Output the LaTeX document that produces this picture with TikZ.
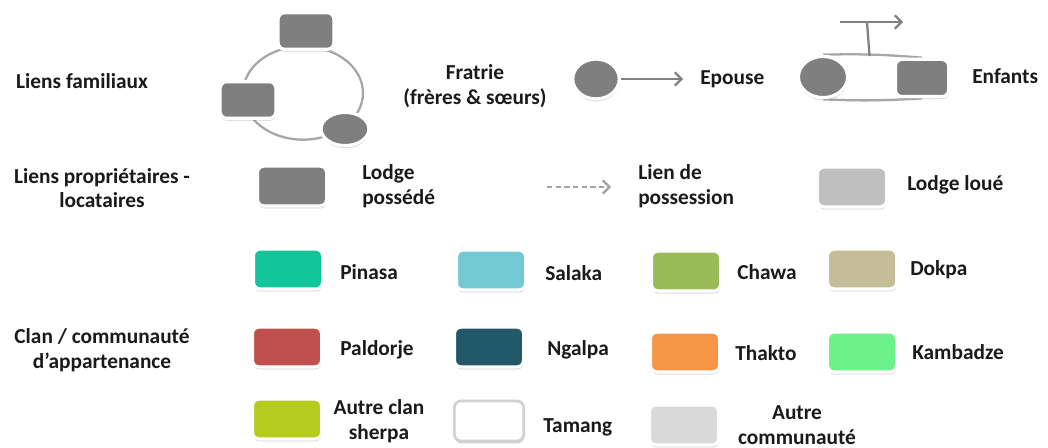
\documentclass[tikz,border=0pt]{standalone}
\usepackage{fontspec}
\setmainfont{Carlito}
\usetikzlibrary{shapes.geometric,shadows,arrows.meta,calc}
\pgfdeclarelayer{bg}
\pgfsetlayers{bg,main}
\definecolor{dgray}{HTML}{7F7F7F}
\definecolor{lgray}{HTML}{BFBFBF}
\definecolor{ringc}{HTML}{A6A6A6}
\definecolor{linec}{HTML}{808080}
\definecolor{cpinasa}{HTML}{14C49A}
\definecolor{csalaka}{HTML}{72C9D4}
\definecolor{cchawa}{HTML}{9BBB59}
\definecolor{cdokpa}{HTML}{C4BD97}
\definecolor{cpaldorje}{HTML}{C0504D}
\definecolor{cngalpa}{HTML}{215968}
\definecolor{cthakto}{HTML}{F79646}
\definecolor{ckambadze}{HTML}{6CF08A}
\definecolor{cautreclan}{HTML}{B3CC1E}
\definecolor{cautrecom}{HTML}{D9D9D9}
\definecolor{txt}{HTML}{1A1A1A}
\tikzset{
  shad/.style={drop shadow={shadow xshift=0.3pt, shadow yshift=-1.8pt, opacity=0.3, fill=black!60}},
  lbox/.style={rectangle, rounded corners=5pt, draw=white, line width=2.5pt, minimum width=52pt, minimum height=30pt, inner sep=0pt, shad, fill=#1},
  sbox/.style={rectangle, rounded corners=5pt, draw=white, line width=2.5pt, minimum width=42pt, minimum height=27.5pt, inner sep=0pt, shad, fill=dgray},
  oval/.style={ellipse, draw=white, line width=2.5pt, inner sep=0pt, shad, fill=dgray},
  lbl/.style={font=\bfseries\fontsize{16}{18.5}\selectfont, text=txt, inner sep=0pt},
  lblw/.style={lbl, anchor=west, align=left},
  lblc/.style={lbl, align=center},
  conn/.style={draw=linec, line width=1.7pt},
  tip/.style={-{Straight Barb[length=5pt,width=10pt]}},
}
\begin{document}
\begin{tikzpicture}[x=0.75pt,y=-0.75pt]
\begin{pgfonlayer}{bg}
\fill[white] (0,0) rectangle (1048,448);
\end{pgfonlayer}
\useasboundingbox (0,0) rectangle (1048,448);

% row titles
\node[lblc] (tfam) at (82,81) {Liens familiaux};
\node[lblc] (tprop) at (102,188) {Liens propriétaires -\\locataires};
\node[lblc] (tclan) at (102,350) {Clan / communauté\\d’appartenance};

% Fratrie
\node[ellipse, draw=ringc, line width=1.7pt, minimum width=90pt, minimum height=70pt, inner sep=0pt] (ring) at (303,93) {};
\node[sbox] (f1) at (306,31) {};
\node[sbox] (f2) at (248,100) {};
\node[oval, minimum width=36pt, minimum height=25pt] (f3) at (345,129) {};
\node[lblc] (tfra) at (475,86) {Fratrie\\(frères \& sœurs)};

% Epouse
\node[oval, minimum width=35pt, minimum height=30pt] (e1) at (596,79) {};
\coordinate (e1end) at (683,79);
\draw[conn, tip] (e1.east) -- (e1end);
\node[lblw] (tep) at (700,79) {Epouse};

% Enfants
\node[oval, minimum width=37pt, minimum height=31pt] (e2) at (823,77) {};
\node[sbox, minimum width=40pt, minimum height=28pt] (b2) at (922,78) {};
\begin{pgfonlayer}{bg}
\draw[draw=ringc, line width=1.7pt] (e2.north) to[bend left=3] (b2.north);
\draw[draw=ringc, line width=1.7pt] (e2.south) to[bend right=3] (b2.south);
\end{pgfonlayer}
\coordinate (mid) at ($(e2.north)!0.47!(b2.north)$);
\coordinate (top) at (867,22);
\coordinate (tl) at (840,22);
\coordinate (tr) at (903,22);
\draw[conn] (mid) -- (top);
\draw[conn, tip] (tl) -- (tr);
\node[lblw] (tenf) at (972,76) {Enfants};

% Row 2
\node[lbox=dgray] (lp) at (292,186) {};
\node[lblw] (tlp) at (362,186) {Lodge\\possédé};
\coordinate (da) at (547,187);
\coordinate (db) at (611,187);
\draw[draw=lgray!85!black, line width=1.7pt, dash pattern=on 4pt off 2.5pt, tip] (da) -- (db);
\node[lblw] (tlien) at (638,186) {Lien de\\possession};
\node[lbox=lgray] (ll) at (852,187) {};
\node[lblw] (tll) at (907,185) {Lodge loué};

% Row 3
\node[lbox=cpinasa] (pin) at (288,269) {};
\node[lblw] (tpin) at (340,272) {Pinasa};
\node[lbox=csalaka] (sal) at (491,270) {};
\node[lblw] (tsal) at (545,273) {Salaka};
\node[lbox=cchawa] (cha) at (686,271) {};
\node[lblw] (tcha) at (737,272) {Chawa};
\node[lbox=cdokpa] (dok) at (862,269) {};
\node[lblw] (tdok) at (910,270) {Dokpa};

% Row 4
\node[lbox=cpaldorje] (pal) at (287,347) {};
\node[lblw] (tpal) at (340,350) {Paldorje};
\node[lbox=cngalpa] (nga) at (489,347) {};
\node[lblw] (tnga) at (547,350) {Ngalpa};
\node[lbox=cthakto] (tha) at (685,352) {};
\node[lblw] (ttha) at (735,353) {Thakto};
\node[lbox=ckambadze] (kam) at (862,352) {};
\node[lblw] (tkam) at (912,352) {Kambadze};

% Row 5
\node[lbox=cautreclan] (acl) at (287,419) {};
\node[lblc] (tacl) at (379,421) {Autre clan\\sherpa};
\node[lbox=white, draw=black!18, line width=2pt] (tam) at (489,421) {};
\node[lblw] (ttam) at (543,427) {Tamang};
\node[lbox=cautrecom] (aco) at (684,425) {};
\node[lblc] (taco) at (797,425) {Autre\\communauté};
\end{tikzpicture}
\end{document}
